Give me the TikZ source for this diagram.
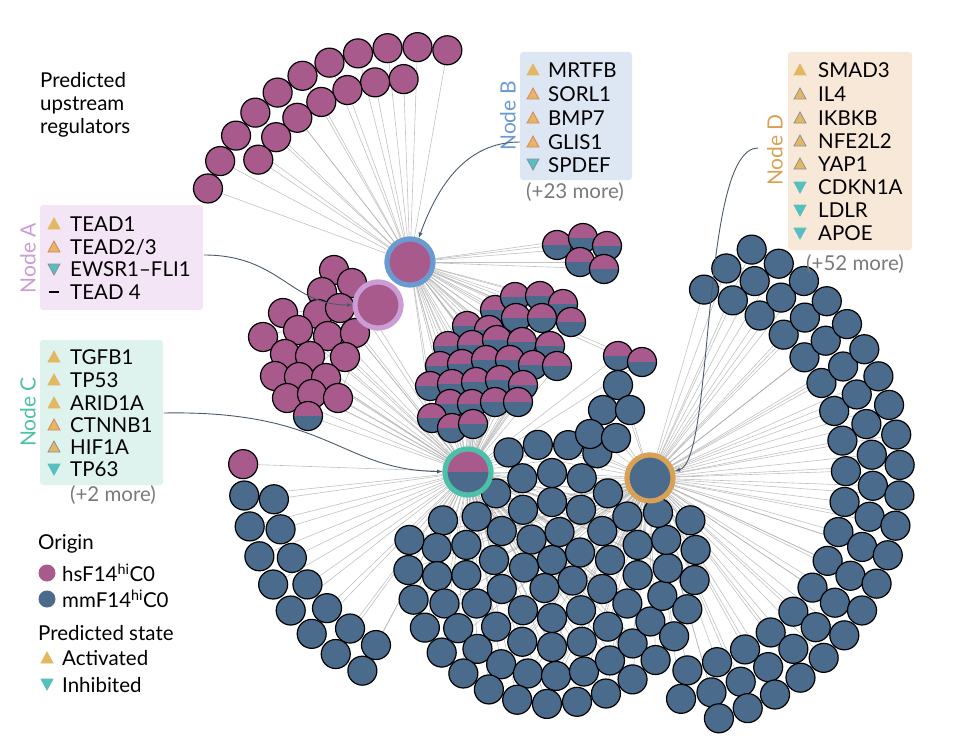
\documentclass[tikz,border=0pt]{standalone}
\usepackage{fontspec}
\setmainfont{Lato}
\pgfdeclarelayer{bg}
\pgfsetlayers{bg,main}
\definecolor{pk}{HTML}{A95A8C}
\definecolor{bl}{HTML}{4A6B8C}
\definecolor{hB}{HTML}{6A9BD0}
\definecolor{hA}{HTML}{CC9CD6}
\definecolor{hC}{HTML}{4DC0A8}
\definecolor{hD}{HTML}{D9A155}
\definecolor{fB}{HTML}{DDE7F3}
\definecolor{fD}{HTML}{F8E8D8}
\definecolor{fA}{HTML}{F4E5F6}
\definecolor{fC}{HTML}{DEF3EE}
\definecolor{ty}{HTML}{E3B862}
\definecolor{tt}{HTML}{56BFC0}
\definecolor{tg}{HTML}{8A8F9A}
\definecolor{tr}{HTML}{D9826A}
\definecolor{gt}{HTML}{7A7A7A}
\definecolor{arr}{HTML}{4A5A6A}
\newcommand\TU[3]{\fill[ty,draw=#3,line width=0.8pt] (#1-6,#2+5)--(#1+6,#2+5)--(#1,#2-6)--cycle;}
\newcommand\TD[3]{\fill[tt,draw=#3,line width=0.8pt] (#1-6,#2-5)--(#1+6,#2-5)--(#1,#2+6)--cycle;}
\tikzset{
 pc/.style={circle,draw=black,line width=1.2pt,fill=pk,minimum size=29pt,inner sep=0pt},
 bc/.style={circle,draw=black,line width=1.2pt,fill=bl,minimum size=29pt,inner sep=0pt},
 halves/.style={path picture={\fill[pk] (path picture bounding box.north west) rectangle (path picture bounding box.east);
   \fill[bl] (path picture bounding box.west) rectangle (path picture bounding box.south east);}},
 sc/.style={circle,draw=black,line width=1.2pt,minimum size=29pt,inner sep=0pt,halves},
 hub/.style={circle,line width=5pt,minimum size=46pt,inner sep=0pt},
 edge/.style={draw=gray!60,line width=0.6pt,opacity=0.8},
 lab/.style={anchor=west,inner sep=0pt,font=\fontsize{20.5}{22}\selectfont},
 nd/.style={rotate=90,inner sep=0pt,font=\fontsize{21}{23}\selectfont},
 more/.style={inner sep=0pt,text=gt,font=\fontsize{20.5}{22}\selectfont},
 conn/.style={draw=arr,line width=0.9pt,-latex},
 box/.style={rounded corners=3pt,draw=none}
}
\begin{document}
\begin{tikzpicture}[x=1pt,y=-1pt]
\useasboundingbox (0,0) rectangle (957,741);
% hubs (positions)
\node[hub,draw=hB,fill=pk] (hubB) at (410,262) {};
\node[hub,draw=hA,fill=pk] (hubA) at (378,305) {};
\node[hub,draw=hC,halves] (hubC) at (468,472) {};
\node[hub,draw=hD,fill=bl] (hubD) at (650,478) {};
% top-left arc (hub B)
\foreach \a [count=\i] in {80,88,...,160}{
 \node[pc] (ta\i) at ({410+215*cos(\a)},{262-215*sin(\a)}) {};
 \begin{pgfonlayer}{bg}\draw[edge] (hubB) -- (ta\i);\end{pgfonlayer}}
\foreach \a [count=\i] in {92,101,...,150}{
 \node[pc] (tb\i) at ({410+183*cos(\a)},{262-183*sin(\a)}) {};
 \begin{pgfonlayer}{bg}\draw[edge] (hubB) -- (tb\i);\end{pgfonlayer}}
% left pink cluster (hub A)
\foreach \x/\y [count=\i] in {334/270,322/292,352/283,283/313,318/314,340/308,263/337,298/330,328/336,355/333,285/354,310/356,345/357,275/376,299/377,326/378,287/398,312/394,338/398}{
 \node[pc] (la\i) at (\x,\y) {};
 \begin{pgfonlayer}{bg}\draw[edge] (hubA) -- (la\i);\draw[edge] (hubC) -- (la\i);\end{pgfonlayer}}
\node[sc] (la20) at (308,416) {};
\begin{pgfonlayer}{bg}\draw[edge] (hubC) -- (la20);\end{pgfonlayer}
% middle mixed cluster
\foreach \x/\y [count=\i] in {495/310,515/297,540/296,563/304,571/322,467/326,489/330,516/318,542/318,448/346,472/345,497/340,522/342,550/346,440/366,462/364,486/360,510/360,533/365,557/366,430/386,452/384,476/382,500/380,523/385,450/404,472/404,495/402,518/402,432/418,452/428,473/424,618/356,642/362}{
 \node[sc] (mc\i) at (\x,\y) {};
 \begin{pgfonlayer}{bg}\draw[edge] (hubB) -- (mc\i);\draw[edge] (hubC) -- (mc\i);\end{pgfonlayer}}
\foreach \x/\y [count=\i] in {557/245,583/238,607/246,580/262,604/269}{
 \node[sc] (sm\i) at (\x,\y) {};
 \begin{pgfonlayer}{bg}\draw[edge] (hubB) -- (sm\i);\end{pgfonlayer}}
% bottom disc
\node[bc] (q0) at (552,560) {};
\foreach \r/\n/\o in {29/6/15,58/12/0,87/18/10}{
 \foreach \k in {1,...,\n}{
  \pgfmathsetmacro\a{360/\n*\k+\o}
  \node[bc] (q\r-\k) at ({552+\r*cos(\a)},{560-\r*sin(\a)}) {};
  \begin{pgfonlayer}{bg}\draw[edge] (hubC) -- (q\r-\k);\draw[edge] (hubD) -- (q\r-\k);\end{pgfonlayer}}}
\foreach \a [count=\i] in {67,82,97,112,160,174,...,384}{
  \node[bc] (qa\i) at ({552+116*cos(\a)},{560-116*sin(\a)}) {};
  \begin{pgfonlayer}{bg}\draw[edge] (hubC) -- (qa\i);\draw[edge] (hubD) -- (qa\i);\end{pgfonlayer}}
\foreach \a [count=\i] in {172,184,...,376}{
  \node[bc] (qb\i) at ({552+144*cos(\a)},{560-144*sin(\a)}) {};
  \begin{pgfonlayer}{bg}\draw[edge] (hubC) -- (qb\i);\draw[edge] (hubD) -- (qb\i);\end{pgfonlayer}}
\foreach \x/\y [count=\i] in {618/385,603/410,630/410,590/434,616/438}{
  \node[bc] (qt\i) at (\x,\y) {};
  \begin{pgfonlayer}{bg}\draw[edge] (hubD) -- (qt\i);\end{pgfonlayer}}
% right arc (hub D)
\foreach \r/\s/\e/\st in {196/74/-80/9,223/70/-82/8,250/66/-78/7}{
 \pgfmathsetmacro\nx{\s-\st}
 \foreach \a [count=\i] in {\s,\nx,...,\e}{
  \node[bc] (ra\r-\i) at ({650+\r*cos(\a)},{478-\r*sin(\a)}) {};
  \begin{pgfonlayer}{bg}\draw[edge] (hubD) -- (ra\r-\i);\end{pgfonlayer}}}
% bottom-left arc (hub C)
\node[pc] (bl0) at ({468+225*cos(178)},{472-225*sin(178)}) {};
\begin{pgfonlayer}{bg}\draw[edge] (hubC) -- (bl0);\end{pgfonlayer}
\foreach \a [count=\i] in {186,194,...,242}{
  \node[bc] (bo\i) at ({468+225*cos(\a)},{472-225*sin(\a)}) {};
  \begin{pgfonlayer}{bg}\draw[edge] (hubC) -- (bo\i);\end{pgfonlayer}}
\foreach \a [count=\i] in {188,197,...,242}{
  \node[bc] (bi\i) at ({468+196*cos(\a)},{472-196*sin(\a)}) {};
  \begin{pgfonlayer}{bg}\draw[edge] (hubC) -- (bi\i);\end{pgfonlayer}}
% hubs on top
\node[hub,draw=hB,fill=pk] (hubBt) at (hubB) {};
\node[hub,draw=hA,fill=pk] (hubAt) at (hubA) {};
\node[hub,draw=hC,halves] (hubCt) at (hubC) {};
\node[hub,draw=hD,fill=bl] (hubDt) at (hubD) {};
% title
\node[anchor=north west,inner sep=0pt,align=left,font=\fontsize{20.5}{23}\selectfont] (title) at (40,72) {Predicted\\upstream\\regulators};
% Node B
\fill[fB,box] (520,52) rectangle (632,180);
\node[nd,text=hB] (nB) at (508,116) {Node B};
\TU{533}{70}{ty}\node[lab] (b1) at (548,70) {MRTFB};
\TU{533}{94}{tr}\node[lab] (b2) at (548,94) {SORL1};
\TU{533}{118}{tr}\node[lab] (b3) at (548,118) {BMP7};
\TU{533}{142}{tr}\node[lab] (b4) at (548,142) {GLIS1};
\TD{533}{164}{tg}\node[lab] (b5) at (548,165) {SPDEF};
\node[more] (bm) at (575,192) {(+23 more)};
% Node D
\fill[fD,box] (788,52) rectangle (912,250);
\node[nd,text=hD] (nD) at (775,150) {Node D};
\TU{800}{70}{ty}\node[lab] (d1) at (818,70) {SMAD3};
\TU{800}{94}{tg}\node[lab] (d2) at (818,94) {IL4};
\TU{800}{118}{tg}\node[lab] (d3) at (818,118) {IKBKB};
\TU{800}{141}{tg}\node[lab] (d4) at (818,141) {NFE2L2};
\TU{800}{164}{tg}\node[lab] (d5) at (818,164) {YAP1};
\TD{800}{187}{tt}\node[lab] (d6) at (818,187) {CDKN1A};
\TD{800}{210}{tt}\node[lab] (d7) at (818,210) {LDLR};
\TD{800}{233}{tt}\node[lab] (d8) at (818,233) {APOE};
\node[more] (dm) at (855,264) {(+52 more)};
% Node A
\fill[fA,box] (40,205) rectangle (203,310);
\node[nd,text=hA] (nA) at (28,258) {Node A};
\TU{54}{224}{ty}\node[lab] (a1) at (70,224) {TEAD1};
\TU{54}{247}{tr}\node[lab] (a2) at (70,247) {TEAD2/3};
\TD{54}{269}{tg}\node[lab] (a3) at (70,269) {EWSR1–FLI1};
\draw[line width=1.2pt] (49,292) -- (59,292);\node[lab] (a4) at (70,292) {TEAD 4};
% Node C
\fill[fC,box] (40,340) rectangle (163,485);
\node[nd,text=hC] (nC) at (28,412) {Node C};
\TU{54}{357}{ty}\node[lab] (c1) at (70,357) {TGFB1};
\TU{54}{380}{ty}\node[lab] (c2) at (70,380) {TP53};
\TU{54}{403}{ty}\node[lab] (c3) at (70,403) {ARID1A};
\TU{54}{425}{tr}\node[lab] (c4) at (70,425) {CTNNB1};
\TU{54}{447}{tg}\node[lab] (c5) at (70,447) {HIF1A};
\TD{54}{469}{tt}\node[lab] (c6) at (70,469) {TP63};
\node[more] (cm) at (113,495) {(+2 more)};
% connectors
\coordinate (sB) at (520,142);
\draw[conn] (sB) to[out=180,in=70] (hubBt);
\coordinate (sA) at (204,255);
\draw[conn] (sA) .. controls (280,255) and (290,305) .. (hubAt);
\coordinate (sC) at (164,413);
\draw[conn] (sC) .. controls (330,410) and (340,470) .. (hubCt);
\coordinate (sD) at (758,148);
\draw[conn] (sD) .. controls (700,148) and (715,460) .. (hubDt);
% legend
\node[lab] (lo) at (38,544) {Origin};
\node[circle,fill=pk,minimum size=17pt,inner sep=0pt] (lp) at (47,573) {};
\node[lab] (lpt) at (62,573) {hsF14\textsuperscript{hi}C0};
\node[circle,fill=bl,minimum size=17pt,inner sep=0pt] (lb) at (47,599) {};
\node[lab] (lbt) at (62,599) {mmF14\textsuperscript{hi}C0};
\node[lab] (ls) at (38,633) {Predicted state};
\TU{47}{658}{ty}\node[lab] (lu) at (62,658) {Activated};
\TD{47}{684}{tt}\node[lab] (ld) at (62,685) {Inhibited};
\end{tikzpicture}
\end{document}
